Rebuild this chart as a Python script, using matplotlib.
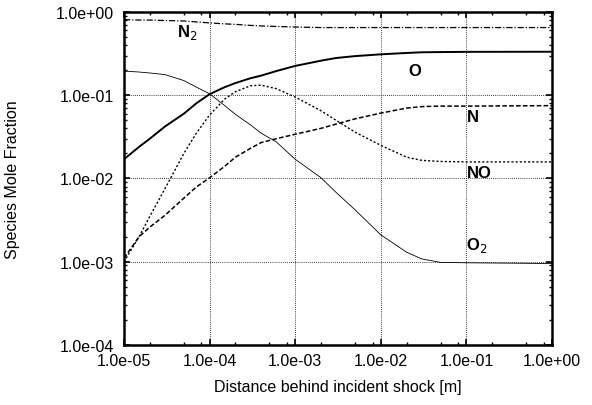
import matplotlib
matplotlib.use("Agg")
import matplotlib.pyplot as plt
from matplotlib.ticker import FuncFormatter, LogLocator, NullFormatter

# Расстояние за падающей ударной волной, м
dist = [1e-5, 1.5e-5, 2e-5, 3e-5, 5e-5, 7e-5, 1e-4, 1.5e-4, 2e-4, 3e-4, 4e-4,
        6e-4, 1e-3, 2e-3, 3e-3, 5e-3, 1e-2, 2e-2, 3e-2, 5e-2, 1e-1, 1e0]

# Мольные доли компонентов
n2 = [0.81, 0.80, 0.80, 0.79, 0.78, 0.76, 0.74, 0.72, 0.71, 0.69, 0.68,
      0.67, 0.66, 0.65, 0.65, 0.65, 0.65, 0.65, 0.65, 0.65, 0.65, 0.65]
o = [0.017, 0.024, 0.030, 0.042, 0.060, 0.080, 0.103, 0.125, 0.140, 0.160, 0.172,
     0.195, 0.225, 0.260, 0.280, 0.295, 0.310, 0.322, 0.328, 0.330, 0.332, 0.333]
o2 = [0.195, 0.190, 0.185, 0.177, 0.150, 0.125, 0.104, 0.075, 0.059, 0.044, 0.035,
      0.0275, 0.017, 0.0102, 0.0068, 0.0042, 0.0021, 0.0013, 0.00108, 0.00098, 0.00097, 0.00095]
no = [0.001, 0.002, 0.0035, 0.0075, 0.020, 0.035, 0.058, 0.090, 0.110, 0.130, 0.132,
      0.120, 0.095, 0.065, 0.050, 0.036, 0.025, 0.018, 0.0165, 0.016, 0.0158, 0.0158]
n = [0.0011, 0.002, 0.0026, 0.0036, 0.0058, 0.0079, 0.0102, 0.014, 0.018, 0.023, 0.027,
     0.030, 0.034, 0.040, 0.045, 0.052, 0.061, 0.070, 0.073, 0.074, 0.074, 0.075]

labels = ["N$_2$", "O", "N", "NO", "O$_2$"]
label_pos = [(4.2e-5, 0.58), (2.1e-2, 0.196), (0.1, 0.056), (0.1, 0.0117), (0.1, 0.0016)]

plt.rcParams["font.family"] = ["Liberation Sans", "DejaVu Sans"]

fig = plt.figure(figsize=(5.92, 4.06), dpi=100)
ax = fig.add_axes([0.2095, 0.148, 0.723, 0.820])

ax.plot(dist, n2, color="black", lw=0.9, ls=(0, (5, 1.5, 1, 1.5)))
ax.plot(dist, o, color="black", lw=1.4, ls="-")
ax.plot(dist, n, color="black", lw=1.1, ls=(0, (3, 1.5)))
ax.plot(dist, no, color="black", lw=1.0, ls=(0, (1.5, 1.5)))
ax.plot(dist, o2, color="black", lw=0.6, ls="-")

for txt, (x, y) in zip(labels, label_pos):
    ax.text(x, y, txt, fontsize=12, fontweight="bold", ha="left", va="center")

ax.set_xscale("log")
ax.set_yscale("log")
ax.set_xlim(1e-5, 1e0)
ax.set_ylim(1e-4, 1e0)

fmt = FuncFormatter(lambda v, _: f"{v:.1e}")
ax.xaxis.set_major_locator(LogLocator(base=10, numticks=10))
ax.yaxis.set_major_locator(LogLocator(base=10, numticks=10))
ax.xaxis.set_major_formatter(fmt)
ax.yaxis.set_major_formatter(fmt)
ax.xaxis.set_minor_locator(LogLocator(base=10, subs=(2, 5, 8), numticks=10))
ax.yaxis.set_minor_locator(LogLocator(base=10, subs=range(2, 10), numticks=10))
ax.xaxis.set_minor_formatter(NullFormatter())
ax.yaxis.set_minor_formatter(NullFormatter())

ax.tick_params(which="both", direction="in", top=True, right=True, labelsize=11.5)
ax.tick_params(which="major", length=4, width=1.2)
ax.tick_params(which="minor", length=2.5, width=1.0)
ax.tick_params(axis="x", pad=6)
ax.tick_params(axis="y", pad=7)

ax.grid(True, which="major", color="black", ls=(0, (1, 1.5)), lw=0.6)
for sp in ax.spines.values():
    sp.set_linewidth(1.8)

ax.set_xlabel("Distance behind incident shock [m]", fontsize=11.5, labelpad=8)
ax.set_ylabel("Species Mole Fraction", fontsize=11.5, labelpad=26)

fig.savefig("out.png", dpi=100)
